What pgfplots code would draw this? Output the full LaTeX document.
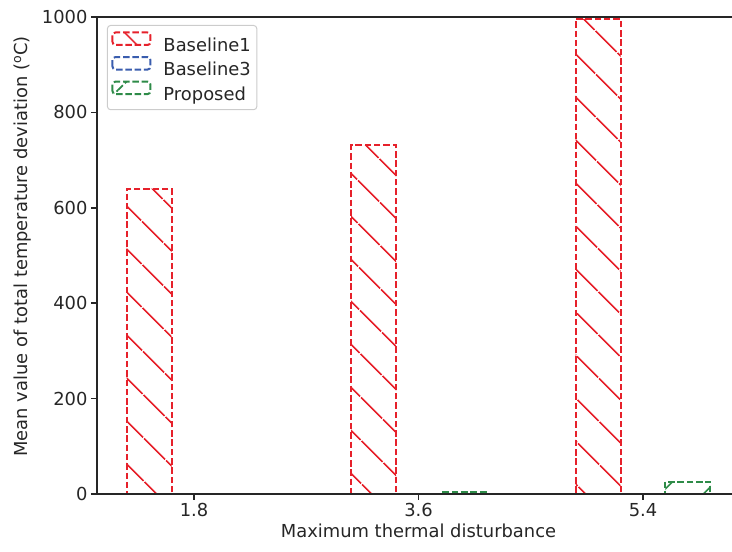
\documentclass[border=0pt]{standalone}
\usepackage{pgfplots}
\pgfplotsset{compat=1.18}
\usepackage{fontspec}
\setmainfont{DejaVu Sans}
\usetikzlibrary{patterns.meta}
\definecolor{tc}{HTML}{262626}
\definecolor{cred}{HTML}{E6212B}
\definecolor{cblue}{HTML}{3A5DAE}
\definecolor{cgreen}{HTML}{2E8B48}
\pgfplotsset{mylegend/.style={legend image code/.code={\draw[##1] (0pt,0pt) rectangle (38pt,12.5pt);}}}
\begin{document}
\begin{tikzpicture}[font=\fontsize{17.9pt}{21pt}\selectfont]
\begin{axis}[
  at={(0pt,0pt)}, anchor=south west,
  scale only axis, width=643pt, height=477pt,
  xmin=-0.432, xmax=2.432, ymin=0, ymax=1000,
  axis x line*=box, axis y line*=left,
  xtick={0,1,2}, xticklabels={1.8,3.6,5.4},
  ytick={0,200,400,600,800,1000},
  xtick pos=lower,
  tick align=outside,
  major tick length=6pt,
  tick style={line width=1.6pt, color=tc},
  axis line style={line width=2pt, color=tc},
  /pgf/number format/assume math mode=true,
  yticklabel style={/pgf/number format/fixed, /pgf/number format/1000 sep={}},
  every tick label/.append style={text=tc},
  xlabel={Maximum thermal disturbance},
  ylabel={Mean value of total temperature deviation (\textsuperscript{o}C)},
  label style={text=tc},
  ylabel style={at={(ticklabel cs:0.519,4pt)}},
  axis on top,
  legend cell align=left,
  legend style={at={(0,1)}, anchor=north west, xshift=10pt, yshift=-8pt,
    draw=black!20, line width=1pt, rounded corners=3pt, fill=white, text=tc,
    inner xsep=4pt, inner ysep=6pt, row sep=1.5pt, column sep=10pt,
    nodes={inner sep=2pt}},
]
\addplot[ybar, bar width=0.2, bar shift=-0.2, draw=cred, line width=2pt,
  dash pattern=on 6.5pt off 2.8pt,
  pattern={Lines[angle=-45,distance=30.4pt,line width=1.8pt]}, pattern color=cred,
  mylegend]
  coordinates {(0,640) (1,731) (2,996)};
\addlegendentry{Baseline1}
\addplot[ybar, bar width=0.2, bar shift=0, draw=cblue, line width=2pt,
  dash pattern=on 6.5pt off 2.8pt, fill=none,
  mylegend]
  coordinates {(0,0) (1,0) (2,0)};
\addlegendentry{Baseline3}
\addplot[ybar, bar width=0.2, bar shift=0.2, draw=cgreen, line width=2pt,
  dash pattern=on 6.5pt off 2.8pt,
  pattern={Lines[angle=45,distance=30.4pt,line width=1.8pt]}, pattern color=cgreen,
  mylegend]
  coordinates {(0,0) (1,4) (2,26)};
\addlegendentry{Proposed}
\end{axis}
\pgfresetboundingbox
\useasboundingbox (-97pt,-58pt) rectangle (635pt,494pt);
\end{tikzpicture}
\end{document}
